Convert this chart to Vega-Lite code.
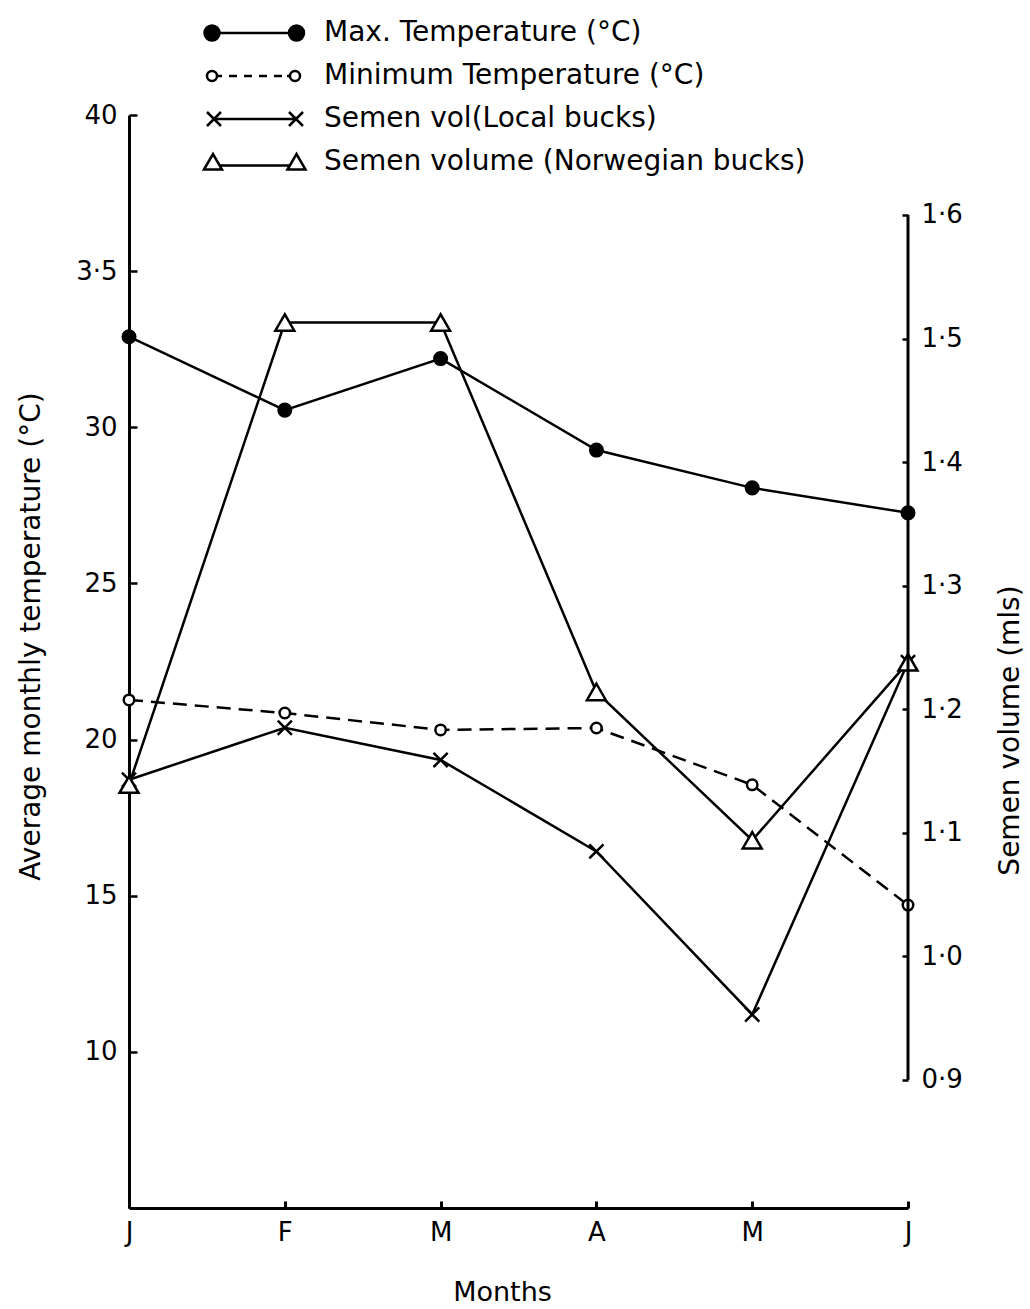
{
  "$schema": "https://vega.github.io/schema/vega-lite/v6.json",
  "width": 779,
  "height": 1093,
  "autosize": {"type": "none"},
  "padding": {"left": 129, "top": 115, "right": 122, "bottom": 101},
  "background": "white",
  "config": {
    "view": {"stroke": null},
    "font": "DejaVu Sans",
    "axis": {"grid": false, "domainColor": "black", "tickColor": "black", "labelColor": "black", "titleColor": "black", "labelFont": "DejaVu Sans", "titleFont": "DejaVu Sans", "titleFontWeight": "normal"}
  },
  "data": {
    "values": [
      {"month": "Jan", "series": "Max. Temperature (°C)", "value": 32.9},
      {"month": "Feb", "series": "Max. Temperature (°C)", "value": 30.55},
      {"month": "Mar", "series": "Max. Temperature (°C)", "value": 32.2},
      {"month": "Apr", "series": "Max. Temperature (°C)", "value": 29.27},
      {"month": "May", "series": "Max. Temperature (°C)", "value": 28.06},
      {"month": "Jun", "series": "Max. Temperature (°C)", "value": 27.26},
      {"month": "Jan", "series": "Minimum Temperature (°C)", "value": 21.27},
      {"month": "Feb", "series": "Minimum Temperature (°C)", "value": 20.85},
      {"month": "Mar", "series": "Minimum Temperature (°C)", "value": 20.31},
      {"month": "Apr", "series": "Minimum Temperature (°C)", "value": 20.37},
      {"month": "May", "series": "Minimum Temperature (°C)", "value": 18.55},
      {"month": "Jun", "series": "Minimum Temperature (°C)", "value": 14.7},
      {"month": "Jan", "series": "Semen vol(Local bucks)", "value": 1.143},
      {"month": "Feb", "series": "Semen vol(Local bucks)", "value": 1.185},
      {"month": "Mar", "series": "Semen vol(Local bucks)", "value": 1.159},
      {"month": "Apr", "series": "Semen vol(Local bucks)", "value": 1.085},
      {"month": "May", "series": "Semen vol(Local bucks)", "value": 0.953},
      {"month": "Jun", "series": "Semen vol(Local bucks)", "value": 1.238},
      {"month": "Jan", "series": "Semen volume (Norwegian bucks)", "value": 1.139},
      {"month": "Feb", "series": "Semen volume (Norwegian bucks)", "value": 1.513},
      {"month": "Mar", "series": "Semen volume (Norwegian bucks)", "value": 1.513},
      {"month": "Apr", "series": "Semen volume (Norwegian bucks)", "value": 1.214},
      {"month": "May", "series": "Semen volume (Norwegian bucks)", "value": 1.094},
      {"month": "Jun", "series": "Semen volume (Norwegian bucks)", "value": 1.238}
    ]
  },
  "encoding": {
    "x": {
      "field": "month",
      "type": "ordinal",
      "scale": {"type": "point", "domain": ["Jan", "Feb", "Mar", "Apr", "May", "Jun"], "padding": 0},
      "axis": {
        "title": "Months",
        "titleFontSize": 27,
        "titlePadding": 34,
        "titleX": 373,
        "labelAngle": 0,
        "labelExpr": "substring(datum.label, 0, 1)",
        "labelFontSize": 26,
        "labelPadding": 18,
        "tickSize": -7,
        "tickWidth": 3,
        "domainWidth": 3
      }
    }
  },
  "layer": [
    {
      "encoding": {
        "y": {
          "field": "value",
          "type": "quantitative",
          "scale": {"domain": [5, 40], "zero": false, "nice": false},
          "axis": {
            "title": "Average monthly temperature (°C)",
            "titleFontSize": 28,
            "titlePadding": 30,
            "titleY": 521,
            "values": [10, 15, 20, 25, 30, 35, 40],
            "labelExpr": "datum.value == 35 ? '3·5' : datum.label",
            "labelFontSize": 26,
            "labelPadding": 20,
            "tickSize": -8,
            "tickWidth": 2.5,
            "domainWidth": 3
          }
        }
      },
      "layer": [
        {
          "transform": [{"filter": "datum.series == 'Max. Temperature (°C)'"}],
          "mark": {"type": "line", "color": "black", "strokeWidth": 2.5}
        },
        {
          "transform": [{"filter": "datum.series == 'Minimum Temperature (°C)'"}],
          "mark": {"type": "line", "color": "black", "strokeWidth": 2.5, "strokeDash": [14, 8]}
        },
        {
          "transform": [{"filter": "datum.series == 'Max. Temperature (°C)'"}],
          "mark": {"type": "point", "shape": "circle", "filled": true, "fill": "black", "stroke": "black", "size": 170, "opacity": 1}
        },
        {
          "transform": [{"filter": "datum.series == 'Minimum Temperature (°C)'"}],
          "mark": {"type": "point", "shape": "circle", "filled": true, "fill": "white", "stroke": "black", "strokeWidth": 2.5, "size": 110, "opacity": 1}
        },
        {
          "transform": [{"filter": "datum.series == 'Max. Temperature (°C)' || datum.series == 'Minimum Temperature (°C)'"}],
          "mark": {"type": "point", "filled": true, "opacity": 0, "stroke": "black"},
          "encoding": {
            "shape": {
              "field": "series",
              "type": "nominal",
              "scale": {
                "domain": ["Max. Temperature (°C)", "Minimum Temperature (°C)", "Semen vol(Local bucks)", "Semen volume (Norwegian bucks)"],
                "range": [
                  "M0.8,0L9.25,0M0.05,0A0.75,0.75 0 1,1 1.55,0A0.75,0.75 0 1,1 0.05,0ZM8.5,0A0.75,0.75 0 1,1 10.0,0A0.75,0.75 0 1,1 8.5,0Z",
                  "M0.3,0A0.5,0.5 0 1,1 1.3,0A0.5,0.5 0 1,1 0.3,0ZM8.6,0A0.5,0.5 0 1,1 9.6,0A0.5,0.5 0 1,1 8.6,0ZM1.3,0L1.8,0M2.5,0L3.3,0M4.0,0L4.8,0M5.5,0L6.3,0M7.0,0L7.8,0M8.3,0L8.6,0",
                  "M0.3,-0.7L1.7,0.7M0.3,0.7L1.7,-0.7M8.5,-0.7L9.9,0.7M8.5,0.7L9.9,-0.7M1.0,0L9.2,0",
                  "M0.0,0.75L0.9,-0.8L1.8,0.75ZM8.35,0.75L9.25,-0.8L10.15,0.75ZM1.55,0.35L8.6,0.35"
                ]
              },
              "legend": {"title": null, "orient": "none", "legendX": 61, "legendY": -96, "padding": 0, "labelFontSize": 28, "labelFont": "DejaVu Sans", "labelColor": "black", "labelLimit": 1000, "labelOffset": 106, "rowPadding": 15, "symbolSize": 400, "symbolStrokeWidth": 2.5, "symbolStrokeColor": "black", "symbolOpacity": 1,
                "encode": {"symbols": {"update": {"stroke": {"value": "black"}, "strokeWidth": {"value": 2.5}, "opacity": {"value": 1}}}}}
            },
            "fill": {
              "field": "series",
              "type": "nominal",
              "scale": {
                "domain": ["Max. Temperature (°C)", "Minimum Temperature (°C)", "Semen vol(Local bucks)", "Semen volume (Norwegian bucks)"],
                "range": ["black", "white", "black", "white"]
              },
              "legend": {"title": null, "orient": "none", "legendX": 61, "legendY": -96, "padding": 0, "labelFontSize": 28, "labelFont": "DejaVu Sans", "labelColor": "black", "labelLimit": 1000, "labelOffset": 106, "rowPadding": 15, "symbolSize": 400, "symbolStrokeWidth": 2.5, "symbolStrokeColor": "black", "symbolOpacity": 1,
                "encode": {"symbols": {"update": {"stroke": {"value": "black"}, "strokeWidth": {"value": 2.5}, "opacity": {"value": 1}}}}}
            }
          }
        }
      ]
    },
    {
      "encoding": {
        "y": {
          "field": "value",
          "type": "quantitative",
          "scale": {"domain": [0.7964, 1.6809], "zero": false, "nice": false},
          "axis": {
            "orient": "right",
            "title": "Semen volume (mls)",
            "titleFontSize": 28,
            "titleAngle": 270,
            "titlePadding": 62,
            "titleY": 615,
            "values": [0.9, 1.0, 1.1, 1.2, 1.3, 1.4, 1.5, 1.6],
            "labelExpr": "replace(format(datum.value, '.1f'), '.', '·')",
            "labelFontSize": 26,
            "labelPadding": 19,
            "tickSize": -6,
            "tickWidth": 2.5,
            "domain": false
          }
        }
      },
      "layer": [
        {
          "transform": [{"filter": "datum.series == 'Semen vol(Local bucks)'"}],
          "mark": {"type": "line", "color": "black", "strokeWidth": 2.5}
        },
        {
          "transform": [{"filter": "datum.series == 'Semen volume (Norwegian bucks)'"}],
          "mark": {"type": "line", "color": "black", "strokeWidth": 2.5}
        },
        {
          "transform": [{"filter": "datum.series == 'Semen vol(Local bucks)'"}],
          "mark": {"type": "point", "shape": "M-1,-1L1,1M-1,1L1,-1", "filled": false, "stroke": "black", "strokeWidth": 2.5, "size": 200, "opacity": 1}
        },
        {
          "transform": [{"filter": "datum.series == 'Semen volume (Norwegian bucks)'"}],
          "mark": {"type": "point", "shape": "triangle-up", "filled": true, "fill": "white", "stroke": "black", "strokeWidth": 2.5, "size": 360, "opacity": 1}
        },
        {
          "data": {"values": [{"month": "Jun", "value": 0.9, "top": 1.6}]},
          "mark": {"type": "rule", "color": "black", "strokeWidth": 3},
          "encoding": {"y2": {"field": "top"}}
        }
      ]
    }
  ],
  "resolve": {"scale": {"y": "independent"}}
}
